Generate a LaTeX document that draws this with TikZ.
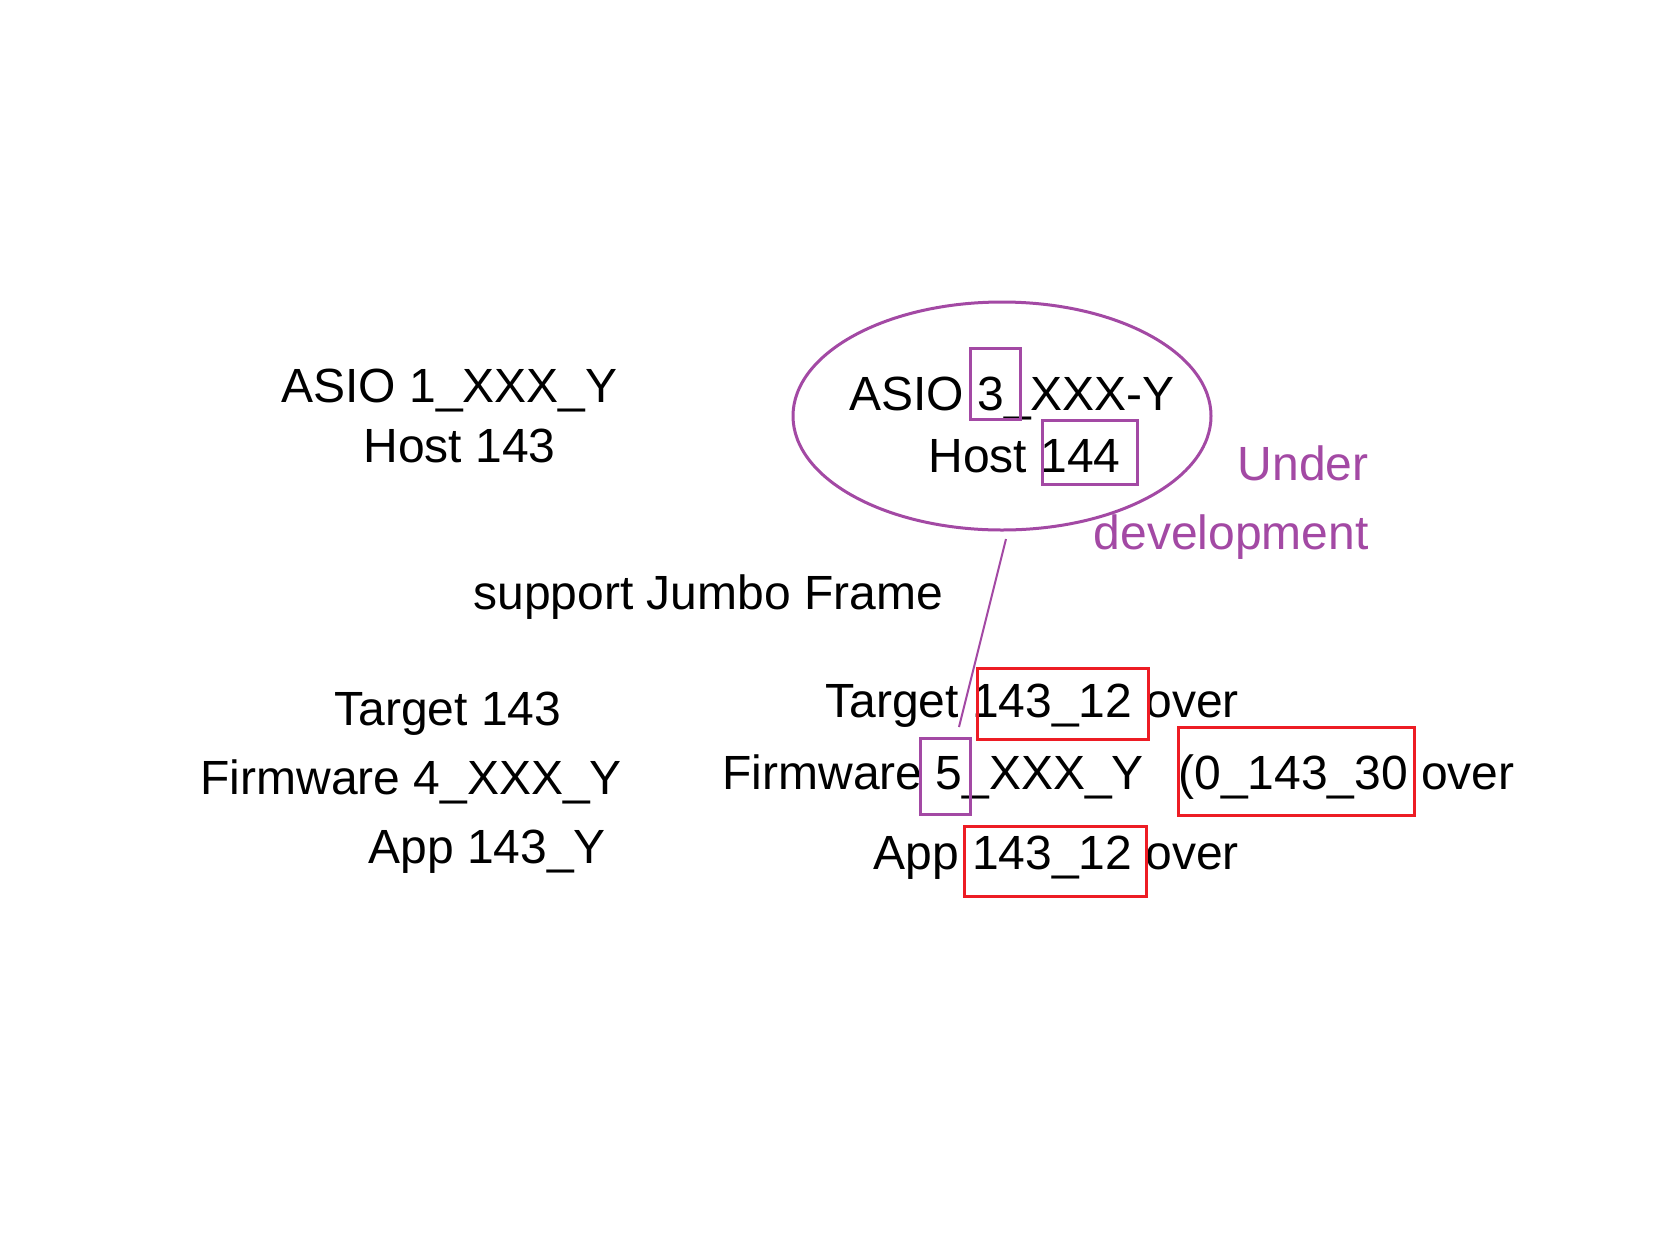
\documentclass[tikz,border=0pt]{standalone}
\usepackage{fontspec}
\setmainfont{Liberation Sans}
\usetikzlibrary{positioning}
\definecolor{paintpurple}{RGB}{163,73,164}
\definecolor{paintred}{RGB}{237,28,36}

\begin{document}
\begin{tikzpicture}[
        x=0.5pt, y=-0.5pt,
        lbl/.style={font=\fontsize{24}{30}\selectfont, inner sep=0pt, anchor=base west},
        note/.style={lbl, color=paintpurple},
        redbox/.style={draw=paintred, line width=1.5pt},
        purplebox/.style={draw=paintpurple, line width=1.5pt}
      ]
        \useasboundingbox (0,0) rectangle (1658,1232);
        \fill[white] (0,0) rectangle (1658,1232);
        % current release
        \node[lbl] (asioOld) at (281,402) {ASIO 1\_XXX\_Y};
        \node[lbl] (hostOld) at (363,462) {Host 143};
        \node[lbl] (tgtOld) at (334,725) {Target 143};
        \node[lbl] (fwOld) at (200,794) {Firmware 4\_XXX\_Y};
        \node[lbl] (appOld) at (368,863) {App 143\_Y};
        \node[lbl] (jumbo) at (473,609) {support Jumbo Frame};
        % next release
        \draw[purplebox] (1002,416) ellipse [x radius=209, y radius=114];
        \node[lbl] (asioNew) at (849,410) {ASIO 3\_XXX-Y};
        \node[lbl] (hostNew) at (928,472) {Host 144};
        \draw[purplebox] (970,348) rectangle (1020,419);
        \draw[purplebox] (1042,420) rectangle (1137,484);
        \node[note, anchor=base east] (under) at (1369,480) {Under};
        \node[note, anchor=base east] (devel) at (1369,549) {development};
        \node[lbl] (tgtNew) at (825,717) {Target 143\_12 over};
        \node[lbl] (fwNew) at (722,789) {Firmware 5\_XXX\_Y};
        \node[lbl] (fwAlt) at (1178,789) {(0\_143\_30 over};
        \node[lbl] (appNew) at (873,869) {App 143\_12 over};
        \draw[redbox] (977,668) rectangle (1148,739);
        \draw[purplebox] (920,738) rectangle (970,814);
        \draw[redbox] (1178,727) rectangle (1414,815);
        \draw[redbox] (964,826) rectangle (1146,896);
        % link from the host ellipse to the firmware digit
        \coordinate (ellFoot) at (1006,539);
        \coordinate (fwTip) at (959,727);
        \draw[paintpurple, line width=1pt] (ellFoot) -- (fwTip);
      \end{tikzpicture}
\end{document}
